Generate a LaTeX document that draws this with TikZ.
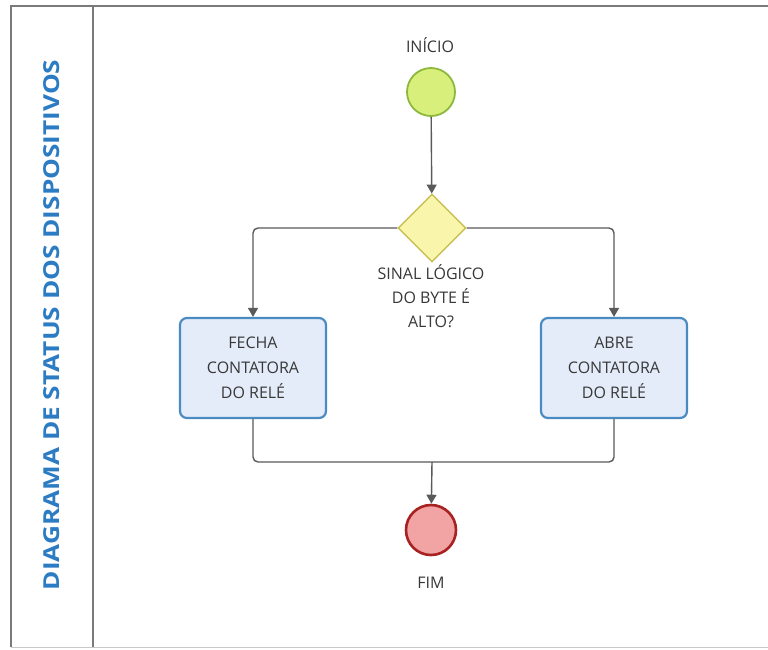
\documentclass[tikz,border=0pt]{standalone}
\usepackage{fontspec}
\setmainfont{Open Sans}
\usetikzlibrary{shapes.geometric,arrows.meta}
\definecolor{lanegray}{HTML}{7A7A7A}
\definecolor{lanelight}{HTML}{C8C8C8}
\definecolor{titleblue}{HTML}{2C7CC4}
\definecolor{startfill}{HTML}{D8EF7C}
\definecolor{startdraw}{HTML}{8DB83C}
\definecolor{gatefill}{HTML}{F9F5AA}
\definecolor{gatedraw}{HTML}{C9BF55}
\definecolor{taskfill}{HTML}{E5ECF9}
\definecolor{taskdraw}{HTML}{4A8CC2}
\definecolor{endfill}{HTML}{F2A3A3}
\definecolor{enddraw}{HTML}{A82222}
\definecolor{flowgray}{HTML}{5A5A5A}
\tikzset{
  txt/.style={font=\fontsize{16}{24}\selectfont, text=black!78, align=center},
  startev/.style={circle, minimum size=48pt, inner sep=0pt, fill=startfill, draw=startdraw, line width=1.8pt},
  endev/.style={circle, minimum size=50pt, inner sep=0pt, fill=endfill, draw=enddraw, line width=2.6pt},
  gate/.style={diamond, minimum width=68pt, minimum height=68pt, inner sep=0pt, fill=gatefill, draw=gatedraw, line width=1.4pt},
  task/.style={rectangle, rounded corners=7pt, minimum width=146pt, minimum height=100pt, fill=taskfill, draw=taskdraw, line width=2.2pt, txt, font=\fontsize{16}{25}\selectfont},
  flow/.style={draw=flowgray, line width=1.4pt, rounded corners=5pt},
  arr/.style={flow, -{Triangle[width=10pt,length=9pt]}}
}
\begin{document}
\begin{tikzpicture}[x=1pt,y=-1pt]
\useasboundingbox (0,0) rectangle (768,649);
\fill[white] (0,0) rectangle (768,649);
% pool frame and lane divider
\draw[lanelight, line width=1pt] (11,647) -- (768,647);
\draw[lanegray, line width=2.2pt] (11,647) -- (11,6) -- (768,6);
\draw[lanegray, line width=2.2pt] (93,6) -- (93,647);
% lane title
\node[rotate=90, text=titleblue, font=\bfseries\fontsize{22}{26}\selectfont] (lane) at (52,325) {\scalebox{1.19}[1]{DIAGRAMA DE STATUS DOS DISPOSITIVOS}};
% events, gateway and tasks
\node[startev] (start) at (431,92) {};
\node[txt] (startlbl) at (430,45) {INÍCIO};
\node[gate] (gw) at (432,228) {};
\node[txt] (gwlbl) at (431,296) {SINAL LÓGICO\\DO BYTE É\\ALTO?};
\node[task] (fecha) at (253,368) {FECHA\\CONTATORA\\DO RELÉ};
\node[task] (abre) at (614,368) {ABRE\\CONTATORA\\DO RELÉ};
\node[endev] (fim) at (431,530) {};
\node[txt] (fimlbl) at (431,583) {FIM};
% sequence flows
\coordinate (join) at (432,462);
\draw[arr] (start) -- (gw);
\draw[arr] (gw.west) -| (fecha.north);
\draw[arr] (gw.east) -| (abre.north);
\draw[flow] (fecha.south) |- (join);
\draw[flow] (abre.south) |- (join);
\draw[arr] (join) -- (fim);
\end{tikzpicture}
\end{document}
